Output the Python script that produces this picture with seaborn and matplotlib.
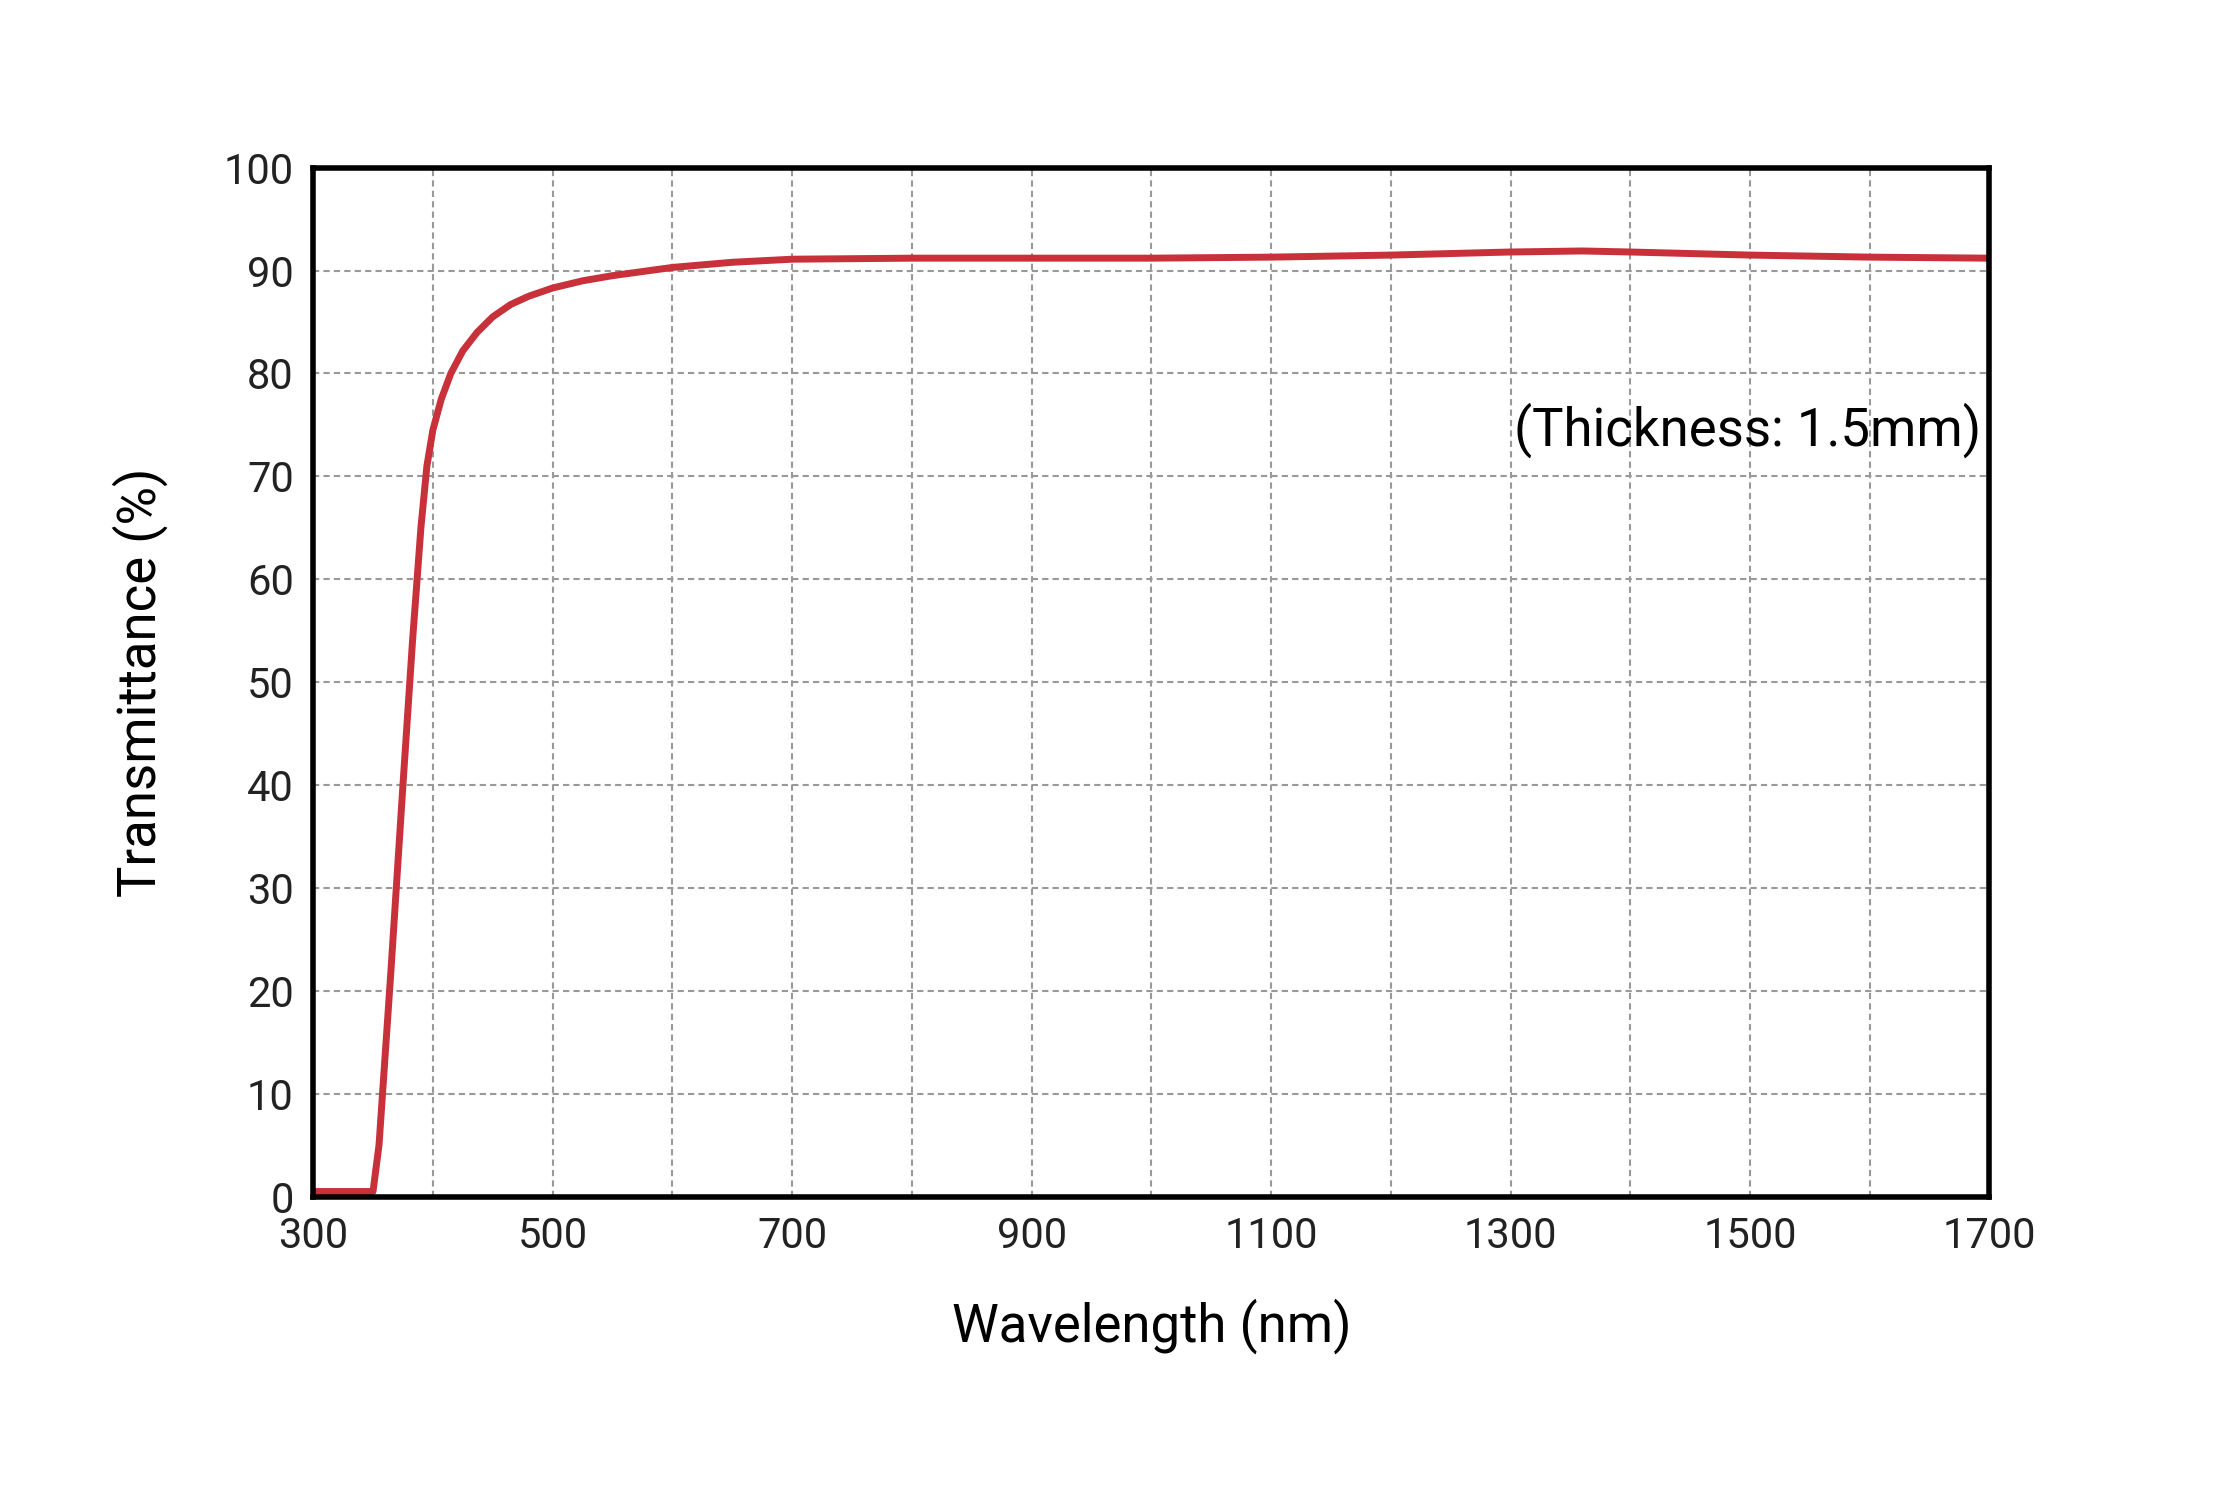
import matplotlib
matplotlib.use("Agg")
import matplotlib.pyplot as plt
import seaborn as sns
import pandas as pd

wavelength = [300, 345, 350, 355, 365, 375, 383, 390, 395, 400, 407, 415, 425, 437, 450, 465, 480, 500, 525, 550, 575, 600, 650, 700, 800, 900, 1000, 1100, 1200, 1300, 1360, 1400, 1500, 1600, 1700]
transmittance = [0.5, 0.5, 0.5, 5, 22, 40, 54, 65, 71, 74.5, 77.5, 80, 82.2, 84, 85.5, 86.7, 87.5, 88.3, 89, 89.5, 89.9, 90.3, 90.8, 91.1, 91.2, 91.2, 91.2, 91.3, 91.5, 91.8, 91.9, 91.8, 91.5, 91.3, 91.2]
xticks = [300, 500, 700, 900, 1100, 1300, 1500, 1700]
yticks = list(range(0, 101, 10))

df = pd.DataFrame({"Wavelength": wavelength, "T": transmittance})
fig = plt.figure(figsize=(22.13, 15.10), dpi=100)
ax = fig.add_axes([0.1415, 0.2075, 0.7575, 0.6815])
sns.lineplot(data=df, x="Wavelength", y="T", ax=ax, color="#c8303a", linewidth=5)
ax.set_xlim(300, 1700)
ax.set_ylim(0, 100)
ax.set_xticks(range(300, 1701, 100))
ax.set_xticklabels([str(v) if v in xticks else "" for v in range(300, 1701, 100)],
                   fontfamily="Roboto", fontsize=30, color="#222222")
ax.set_yticks(yticks)
ax.set_yticklabels([str(v) for v in yticks], fontfamily="Roboto", fontsize=30, color="#222222")
ax.grid(True, linestyle=(0, (3, 2)), color="#999999", linewidth=1.5)
ax.tick_params(length=0, pad=14)
for s in ax.spines.values():
    s.set_linewidth(4); s.set_color("black")
ax.set_xlabel("Wavelength (nm)", fontsize=38, fontfamily="Roboto", labelpad=30)
ax.set_ylabel("Transmittance (%)", fontsize=38, fontfamily="Roboto", labelpad=40)
ax.text(0.995, 0.745, "(Thickness: 1.5mm)", transform=ax.transAxes, ha="right", va="center",
        fontsize=38, fontfamily="Roboto")
fig.savefig("out.png", dpi=100, facecolor="white")
